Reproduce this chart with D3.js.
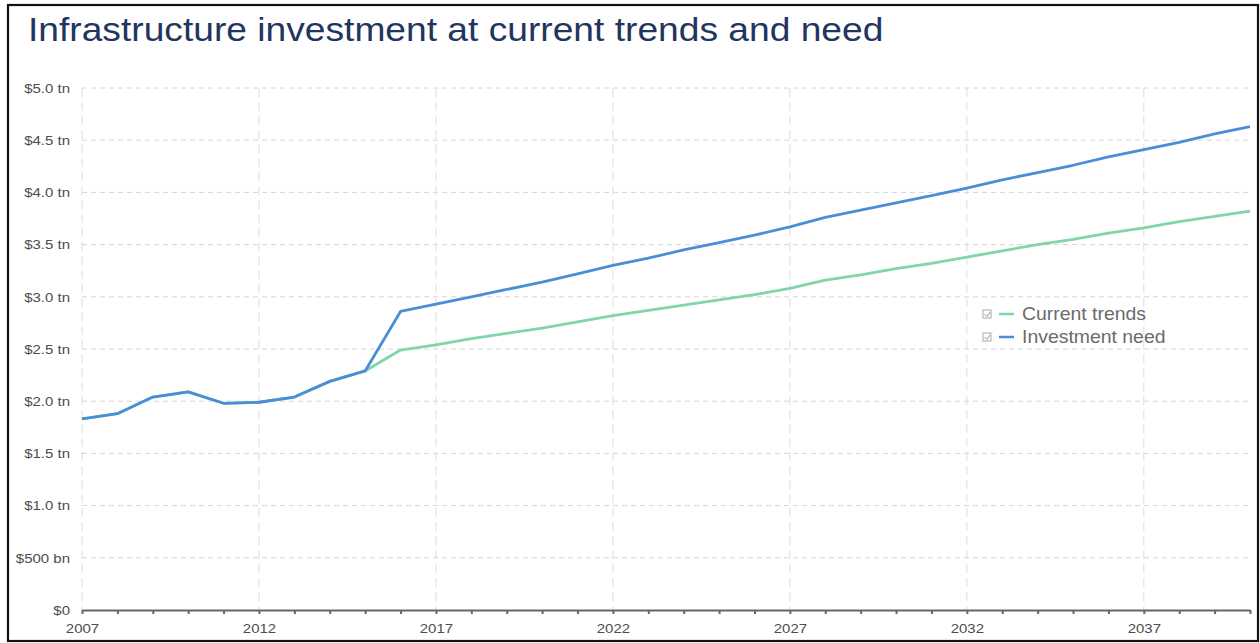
<!DOCTYPE html>
<html>
<head>
<meta charset="utf-8">
<script src="https://cdn.jsdelivr.net/npm/d3@7"></script>
<style>
  html, body { margin: 0; padding: 0; background: #fff; }
  svg { display: block; font-family: "Liberation Sans", Arial, sans-serif; }
</style>
</head>
<body>
<svg id="chart" width="1260" height="643"></svg>
<script>
// Yearly series, 2007–2040 (US$ trillions)
const years = d3.range(2007, 2041);
const currentTrends = [
  1.83, 1.88, 2.04, 2.09, 1.98, 1.99, 2.04, 2.19, 2.29, 2.49,
  2.54, 2.60, 2.65, 2.70, 2.76, 2.82, 2.87, 2.92, 2.97, 3.02,
  3.08, 3.16, 3.21, 3.27, 3.32, 3.38, 3.44, 3.50, 3.55, 3.61,
  3.66, 3.72, 3.77, 3.82
];
const investmentNeed = [
  1.83, 1.88, 2.04, 2.09, 1.98, 1.99, 2.04, 2.19, 2.29, 2.86,
  2.93, 3.00, 3.07, 3.14, 3.22, 3.30, 3.37, 3.45, 3.52, 3.59,
  3.67, 3.76, 3.83, 3.90, 3.97, 4.04, 4.12, 4.19, 4.26, 4.34,
  4.41, 4.48, 4.56, 4.63
];
const yTicks = [0, 0.5, 1.0, 1.5, 2.0, 2.5, 3.0, 3.5, 4.0, 4.5, 5.0];
const yTickLabels = ["$0", "$500 bn", "$1.0 tn", "$1.5 tn", "$2.0 tn", "$2.5 tn",
                     "$3.0 tn", "$3.5 tn", "$4.0 tn", "$4.5 tn", "$5.0 tn"];
const xLabelYears = [2007, 2012, 2017, 2022, 2027, 2032, 2037];
const seriesNames = ["Current trends", "Investment need"];
const seriesColors = ["#80d5aa", "#4a8ed7"];

const svg = d3.select("#chart");
const W = 1260, H = 643;
const SX = 1.11; // horizontal stretch applied to all text

// outer frame
svg.append("rect")
  .attr("x", 8).attr("y", 5).attr("width", W - 10).attr("height", H - 7)
  .attr("fill", "#fff").attr("stroke", "#111").attr("stroke-width", 2.2);

// title
svg.append("text")
  .attr("transform", `translate(28,41) scale(${SX},1)`)
  .attr("font-size", 33.5)
  .attr("fill", "#22355f")
  .text("Infrastructure investment at current trends and need");

const x = d3.scaleLinear().domain([2007, 2040]).range([82, 1250]);
const y = d3.scaleLinear().domain([0, 5]).range([610, 88]);

// horizontal gridlines
svg.append("g").selectAll("line")
  .data(yTicks.filter(d => d > 0))
  .join("line")
  .attr("x1", x(2007)).attr("x2", x(2040))
  .attr("y1", d => y(d)).attr("y2", d => y(d))
  .attr("stroke", "#d6d6d6").attr("stroke-width", 1)
  .attr("stroke-dasharray", "5,4");

// vertical gridlines every five years
svg.append("g").selectAll("line")
  .data(xLabelYears)
  .join("line")
  .attr("x1", d => x(d)).attr("x2", d => x(d))
  .attr("y1", y(5)).attr("y2", y(0))
  .attr("stroke", "#dcdcdc").attr("stroke-width", 1)
  .attr("stroke-dasharray", "9,5");

// y-axis labels
const yAxis = d3.axisLeft(y)
  .tickValues(yTicks)
  .tickFormat((d, i) => yTickLabels[i])
  .tickSize(0).tickPadding(0);
const gy = svg.append("g").attr("transform", `translate(70,0)`).call(yAxis);
gy.select(".domain").remove();
gy.selectAll(".tick text")
  .attr("x", null)
  .attr("transform", `scale(${SX},1)`)
  .attr("font-size", 13.5).attr("fill", "#4d4d4d")
  .attr("font-family", "Liberation Sans, Arial, sans-serif");

// x axis with a tick each year, labels every five years
const xAxis = d3.axisBottom(x)
  .tickValues(years)
  .tickFormat(d => xLabelYears.includes(d) ? String(d) : "")
  .tickSize(4).tickSizeOuter(0).tickPadding(9);
const gx = svg.append("g").attr("transform", `translate(0,${y(0)})`).call(xAxis);
gx.select(".domain").attr("stroke", "#666").attr("stroke-width", 2);
gx.selectAll(".tick line").attr("stroke", "#666").attr("stroke-width", 2);
gx.selectAll(".tick text")
  .attr("transform", `scale(${SX},1)`)
  .attr("font-size", 13.5).attr("fill", "#4d4d4d")
  .attr("font-family", "Liberation Sans, Arial, sans-serif");

// series lines
const line = d3.line()
  .x((d, i) => x(years[i]))
  .y(d => y(d));

[currentTrends, investmentNeed].forEach((vals, k) => {
  svg.append("path")
    .datum(vals)
    .attr("d", line)
    .attr("fill", "none")
    .attr("stroke", seriesColors[k])
    .attr("stroke-width", 2.8)
    .attr("stroke-linejoin", "round");
});

// legend
const legend = svg.append("g").attr("transform", "translate(983,314)");
seriesNames.forEach((name, k) => {
  const g = legend.append("g").attr("transform", `translate(0,${k * 23})`);
  g.append("rect")
    .attr("x", 0).attr("y", -4).attr("width", 8).attr("height", 8)
    .attr("fill", "#fff").attr("stroke", "#aaa").attr("stroke-width", 1);
  g.append("path")
    .attr("d", "M1.5,0 L4,2.5 L7,-2")
    .attr("fill", "none").attr("stroke", "#999").attr("stroke-width", 1);
  g.append("line")
    .attr("x1", 16).attr("x2", 31).attr("y1", 0).attr("y2", 0)
    .attr("stroke", seriesColors[k]).attr("stroke-width", 2.5);
  g.append("text")
    .attr("transform", `translate(39,6) scale(${SX},1)`)
    .attr("font-size", 17.5).attr("fill", "#6b6b6b")
    .text(name);
});
</script>
</body>
</html>
